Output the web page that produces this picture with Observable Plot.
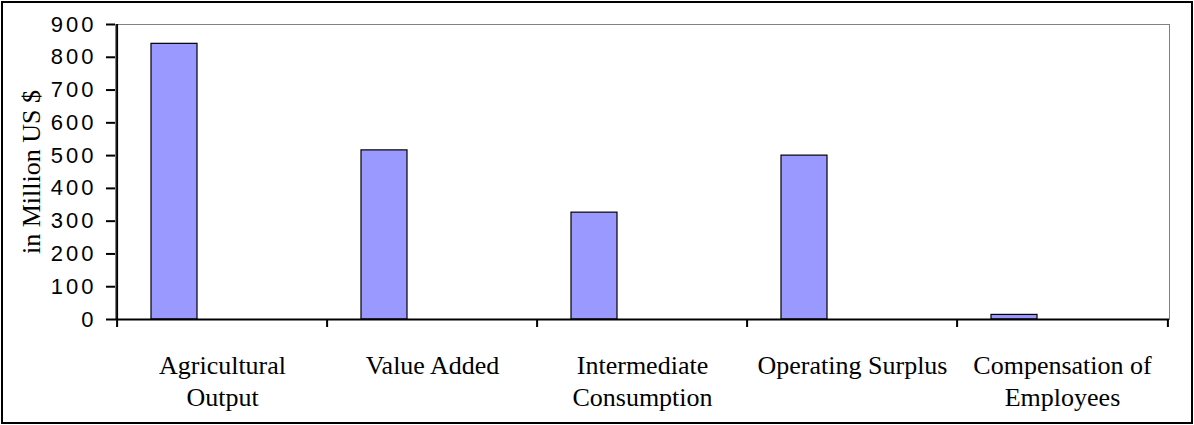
<!DOCTYPE html>
<html>
<head>
<meta charset="utf-8">
<script src="https://cdn.jsdelivr.net/npm/d3@7"></script>
<script src="https://cdn.jsdelivr.net/npm/@observablehq/plot@0.6"></script>
<style>
  html, body { margin: 0; padding: 0; background: #fff; }
  #wrap { position: relative; width: 1194px; height: 425px; overflow: hidden; }
  #border { position: absolute; left: 1px; top: 1px; width: 1192px; height: 423px; box-sizing: border-box; border: 2px solid #000; pointer-events: none; }
  #chart svg { position: absolute; left: 0; top: 0; }
  g[aria-label="y-axis tick label"] text { letter-spacing: 3px; }
</style>
</head>
<body>
<div id="wrap"><div id="chart"></div><div id="border"></div></div>
<script>
const categories = ["Agricultural Output", "Value Added", "Intermediate Consumption", "Operating Surplus", "Compensation of Employees"];
const categoryLabels = ["Agricultural\nOutput", "Value Added", "Intermediate\nConsumption", "Operating Surplus", "Compensation of\nEmployees"];
const values = [841, 516, 326, 500, 14];
const yTicks = [0, 100, 200, 300, 400, 500, 600, 700, 800, 900];
const yDomain = [0, 900];
const yTitle = "in Million US $";

const data = categories.map((c, i) => ({category: c, value: values[i]}));
const W = 1194, H = 425, mL = 115, mR = 25, mT = 24, mB = 106;
const bw = (W - mL - mR) / categories.length;
const serif = "'Liberation Serif', 'Times New Roman', serif";
const sans = "'Liberation Sans', Arial, sans-serif";

const plot = Plot.plot({
  width: W, height: H,
  marginLeft: mL, marginRight: mR, marginTop: mT, marginBottom: mB,
  style: {background: "transparent", color: "#000", overflow: "visible"},
  x: {domain: categories, padding: 0},
  y: {domain: yDomain},
  marks: [
    Plot.frame({stroke: "#808080", strokeWidth: 1}),
    Plot.barY(data, {x: "category", y: "value", fill: "#9999FF", stroke: "#000", strokeWidth: 1.2, insetLeft: 34, insetRight: 130}),
    Plot.ruleY([0], {stroke: "#000", strokeWidth: 2}),
    Plot.ruleX([categories[0]], {dx: -bw / 2, y1: yDomain[0], y2: yDomain[1], stroke: "#000", strokeWidth: 2}),
    Plot.axisY(yTicks, {tickSize: 9, tickPadding: 10, fontSize: 22, fontFamily: sans, stroke: "#000", strokeWidth: 2, fill: "#000", label: null}),
    Plot.axisX(categories, {tickSize: 8, tickPadding: 0, dx: -bw / 2, tickFormat: () => "", stroke: "#000", strokeWidth: 2, label: null}),
    Plot.axisX([categories[categories.length - 1]], {tickSize: 8, tickPadding: 0, dx: bw / 2, tickFormat: () => "", stroke: "#000", strokeWidth: 2, label: null}),
    Plot.axisX(categories, {tickSize: 0, tickPadding: 32, tickFormat: d => categoryLabels[categories.indexOf(d)], fontSize: 26, fontFamily: serif, lineHeight: 1.23, fill: "#000", label: null}),
    Plot.text([yTitle], {text: d => d, frameAnchor: "left", textAnchor: "middle", rotate: -90, dx: -84, fontSize: 26, fontFamily: serif, fill: "#000"})
  ]
});
document.getElementById("chart").appendChild(plot);
</script>
</body>
</html>
